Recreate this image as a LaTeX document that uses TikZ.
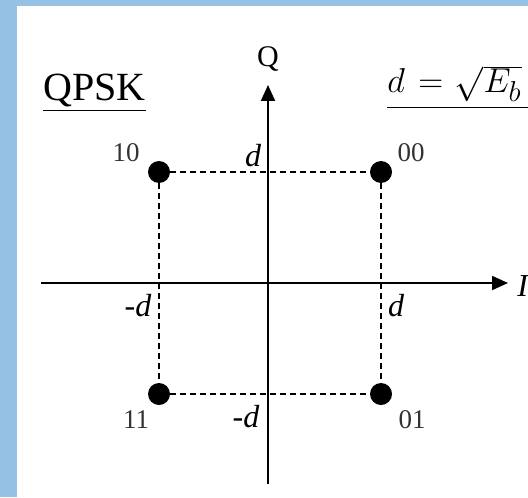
\documentclass[tikz,border=0pt]{standalone}
\usepackage{fontspec}
\setmainfont{Liberation Serif}
\usetikzlibrary{arrows.meta}
\definecolor{framebl}{RGB}{148,193,228}
\begin{document}
\begin{tikzpicture}[x=0.5pt,y=-0.5pt,
  axisline/.style={line width=1pt,-{Triangle[length=8pt,width=7pt]}},
  guide/.style={line width=0.75pt,dash pattern=on 3pt off 2pt},
  pt/.style={circle,fill=black,inner sep=0pt,minimum size=11pt},
  bits/.style={inner sep=0pt,anchor=base,text=black!80,font=\fontsize{13.5}{16}\selectfont},
  dlab/.style={inner sep=0pt,anchor=base,font=\fontsize{16}{19}\selectfont\itshape}]
\useasboundingbox (0,0) rectangle (528,497);
\clip (0,0) rectangle (528,497);
\fill[framebl] (0,0) rectangle (528,6);
\fill[framebl] (0,0) rectangle (16.5,497);
% axes
\coordinate (xl) at (41,283);
\coordinate (xr) at (508,283);
\coordinate (yb) at (268,484);
\coordinate (yt) at (268,85);
\draw[axisline] (xl) -- (xr);
\draw[axisline] (yb) -- (yt);
% constellation points
\node[pt] (p10) at (159,172) {};
\node[pt] (p00) at (381,172) {};
\node[pt] (p11) at (159,394) {};
\node[pt] (p01) at (381,394) {};
\draw[guide] (p10) -- (p00);
\draw[guide] (p11) -- (p01);
\draw[guide] (p10) -- (p11);
\draw[guide] (p00) -- (p01);
% labels
\node[bits] (l10) at (126,162) {10};
\node[bits] (l00) at (411,162) {00};
\node[bits] (l11) at (136,428) {11};
\node[bits] (l01) at (412,428) {01};
\node[dlab] (dt) at (253,166) {d};
\node[dlab] (dr) at (396,316) {d};
\node[dlab] (dl) at (138,316) {\upshape-\itshape d};
\node[dlab] (db) at (246,427) {\upshape-\itshape d};
\node[dlab,anchor=base west] (ilab) at (517,296) {I};
\node[inner sep=0pt,anchor=base,font=\fontsize{15}{18}\selectfont] (qlab) at (268,67) {Q};
\node[inner sep=0pt,anchor=base west,font=\fontsize{20}{24}\selectfont] (title) at (43,101) {\underline{QPSK}};
\node[inner sep=0pt,anchor=base west,font=\fontsize{19}{22}\selectfont] (form) at (387,93) {$\underline{d \mkern2mu= \mkern1mu\sqrt{E_b}\rule[-6pt]{0pt}{1pt}\hspace{20pt}}$};
\end{tikzpicture}
\end{document}
